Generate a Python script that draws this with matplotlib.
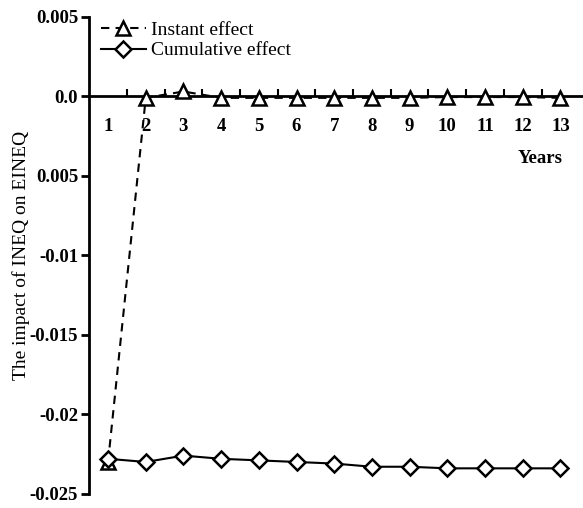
import matplotlib.pyplot as plt
import numpy as np

plt.rcParams['font.family'] = ['Liberation Serif', 'DejaVu Serif']

years = list(range(1, 14))
instant = [-0.0230, -0.0001, 0.0003, -0.0001, -0.0001, -0.0001, -0.0001,
           -0.0001, -0.0001, -0.00005, -0.00005, -0.00005, -0.0001]
cumulative = [-0.0228, -0.0230, -0.0226, -0.0228, -0.0229, -0.0230, -0.0231,
              -0.0233, -0.0233, -0.0234, -0.0234, -0.0234, -0.0234]
ytick_vals = [0.005, 0.0, -0.005, -0.01, -0.015, -0.02, -0.025]
ytick_labels = ['0.005', '0.0', '0.005', '-0.01', '-0.015', '-0.02', '-0.025']

fig = plt.figure(figsize=(5.83, 5.08), dpi=100)
ax = fig.add_axes([0.153, 0.028, 0.847, 0.939])

ax.plot(years, instant, color='k', ls='--', lw=1.5, marker='^', ms=10,
        mfc='white', mec='k', mew=1.8, dashes=(4, 3), label='Instant effect', zorder=3)
ax.plot(years, cumulative, color='k', ls='-', lw=1.5, marker='D', ms=8,
        mfc='white', mec='k', mew=1.8, label='Cumulative effect', zorder=3)

ax.set_xlim(0.5, 13.6)
ax.set_ylim(-0.025, 0.005)

for s in ['top', 'right']:
    ax.spines[s].set_visible(False)
ax.spines['bottom'].set_position(('data', 0))
ax.spines['bottom'].set_linewidth(2)
ax.spines['left'].set_linewidth(2)

ax.set_xticks(years)
ax.set_xticklabels([str(y) for y in years])
ax.set_xticks(np.arange(1.5, 13.5, 1), minor=True)
ax.tick_params(axis='x', which='major', length=0, pad=16, labelsize=13.5)
ax.tick_params(axis='x', which='minor', direction='in', length=5, width=1.5)
for lab in ax.get_xticklabels():
    lab.set_fontweight('bold')

ax.set_yticks(ytick_vals)
ax.set_yticklabels(ytick_labels)
ax.tick_params(axis='y', direction='out', length=6, width=2, labelsize=13.5, pad=2)
for lab in ax.get_yticklabels():
    lab.set_fontweight('bold')

ax.text(12.45, -0.0039, 'Years', fontsize=13.5, fontweight='bold', ha='center', va='center')
fig.text(0.036, 0.498, 'The impact of INEQ on EINEQ', rotation=90, fontsize=14,
         ha='center', va='center')

leg = ax.legend(loc='upper left', bbox_to_anchor=(0.0, 1.015), frameon=False,
                fontsize=14, handlelength=2.3, handletextpad=0.3, labelspacing=0.15,
                borderaxespad=0.2)

fig.savefig('out.png', dpi=100)
